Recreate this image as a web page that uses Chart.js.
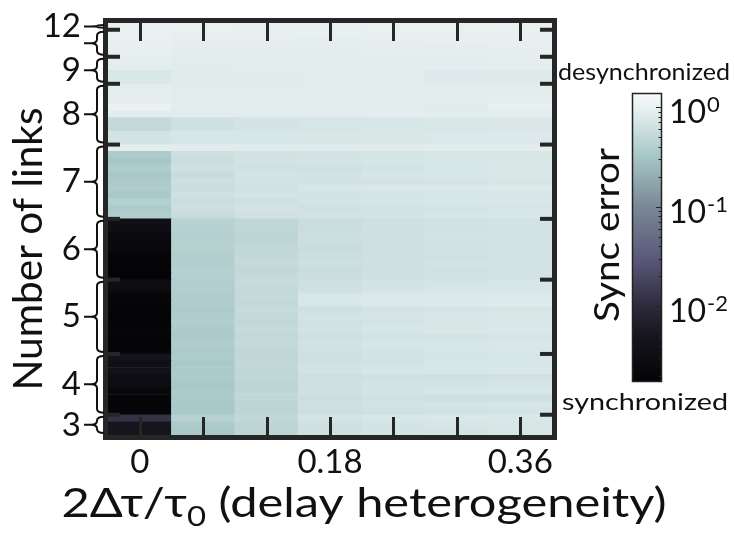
<!DOCTYPE html>
<html>
<head>
<meta charset="utf-8">
<script src="https://cdn.jsdelivr.net/npm/chart.js@4.4.1/dist/chart.umd.min.js"></script>
<style>
  html, body { margin: 0; padding: 0; background: #fff; }
  #heat { display: block; }
</style>
</head>
<body>
<canvas id="heat" width="734" height="533"></canvas>
<script>
// columns: 2Δτ/τ0 delay heterogeneity
const delayLabels = ['0', '0.06', '0.12', '0.18', '0.24', '0.30', '0.36'];
const shownDelays = ['0', '0.18', '0.36'];

// sync error of each network (one row per network, bottom to top), grouped by number of links
const links3 = [
  [0.0050, 0.33, 0.46, 0.62, 0.66, 0.68, 0.70],
  [0.0050, 0.36, 0.47, 0.64, 0.68, 0.70, 0.72],
  [0.0120, 0.42, 0.50, 0.68, 0.72, 0.74, 0.75],
];
const links4 = [
  [0.0020, 0.33, 0.47, 0.60, 0.64, 0.66, 0.68],
  [0.0018, 0.34, 0.46, 0.62, 0.66, 0.68, 0.70],
  [0.0020, 0.34, 0.50, 0.58, 0.62, 0.60, 0.62],
  [0.0022, 0.35, 0.48, 0.64, 0.68, 0.70, 0.72],
  [0.0030, 0.33, 0.47, 0.62, 0.66, 0.67, 0.69],
  [0.0030, 0.36, 0.49, 0.60, 0.63, 0.62, 0.64],
  [0.0040, 0.35, 0.48, 0.66, 0.70, 0.72, 0.74],
  [0.0035, 0.34, 0.50, 0.64, 0.67, 0.70, 0.72],
  [0.0045, 0.36, 0.49, 0.62, 0.66, 0.68, 0.70],
];
const links5 = [
  [0.0018, 0.36, 0.50, 0.63, 0.68, 0.70, 0.72],
  [0.0017, 0.37, 0.52, 0.65, 0.70, 0.72, 0.74],
  [0.0018, 0.35, 0.51, 0.62, 0.66, 0.68, 0.70],
  [0.0019, 0.36, 0.53, 0.66, 0.72, 0.74, 0.76],
  [0.0018, 0.38, 0.50, 0.64, 0.68, 0.70, 0.72],
  [0.0017, 0.37, 0.52, 0.68, 0.70, 0.72, 0.74],
  [0.0018, 0.36, 0.54, 0.62, 0.66, 0.68, 0.70],
  [0.0019, 0.38, 0.51, 0.74, 0.78, 0.80, 0.82],
  [0.0020, 0.37, 0.53, 0.72, 0.76, 0.78, 0.80],
  [0.0028, 0.39, 0.52, 0.63, 0.68, 0.70, 0.72],
  [0.0030, 0.38, 0.55, 0.62, 0.66, 0.68, 0.70],
];
const links6 = [
  [0.0017, 0.40, 0.52, 0.58, 0.62, 0.65, 0.67],
  [0.0017, 0.41, 0.50, 0.57, 0.60, 0.64, 0.66],
  [0.0018, 0.39, 0.53, 0.60, 0.63, 0.66, 0.68],
  [0.0018, 0.40, 0.51, 0.58, 0.61, 0.64, 0.66],
  [0.0024, 0.42, 0.50, 0.56, 0.60, 0.63, 0.65],
  [0.0025, 0.41, 0.48, 0.58, 0.62, 0.65, 0.67],
  [0.0026, 0.40, 0.47, 0.60, 0.63, 0.66, 0.68],
  [0.0032, 0.42, 0.48, 0.57, 0.61, 0.64, 0.66],
  [0.0034, 0.43, 0.49, 0.58, 0.62, 0.65, 0.67],
];
const links7 = [
  [0.38, 0.55, 0.64, 0.66, 0.68, 0.70, 0.72],
  [0.36, 0.60, 0.66, 0.64, 0.66, 0.68, 0.70],
  [0.40, 0.58, 0.62, 0.68, 0.70, 0.72, 0.74],
  [0.34, 0.62, 0.68, 0.66, 0.68, 0.70, 0.72],
  [0.37, 0.57, 0.63, 0.72, 0.74, 0.76, 0.78],
  [0.35, 0.60, 0.66, 0.65, 0.67, 0.69, 0.71],
  [0.33, 0.56, 0.68, 0.67, 0.70, 0.72, 0.74],
  [0.37, 0.62, 0.64, 0.64, 0.68, 0.70, 0.72],
  [0.32, 0.58, 0.66, 0.68, 0.70, 0.72, 0.74],
  [0.36, 0.60, 0.65, 0.66, 0.69, 0.71, 0.73],
  [0.88, 0.85, 0.84, 0.84, 0.85, 0.86, 0.88],
];
const links8 = [
  [0.68, 0.70, 0.72, 0.72, 0.74, 0.76, 0.78],
  [0.66, 0.72, 0.72, 0.74, 0.75, 0.76, 0.78],
  [0.52, 0.62, 0.68, 0.70, 0.72, 0.73, 0.75],
  [0.52, 0.62, 0.68, 0.70, 0.72, 0.74, 0.76],
  [0.88, 0.86, 0.86, 0.88, 0.88, 0.89, 0.90],
  [1.05, 0.88, 0.88, 0.88, 0.89, 0.84, 0.95],
  [0.92, 0.86, 0.87, 0.87, 0.88, 0.90, 0.91],
  [0.92, 0.86, 0.86, 0.88, 0.88, 0.89, 0.90],
  [0.88, 0.84, 0.86, 0.86, 0.87, 0.88, 0.89],
];
const links9 = [
  [0.74, 0.84, 0.85, 0.86, 0.87, 0.80, 0.82],
  [0.72, 0.84, 0.86, 0.86, 0.88, 0.80, 0.82],
  [0.90, 0.86, 0.87, 0.88, 0.89, 0.90, 0.91],
  [0.92, 0.86, 0.88, 0.88, 0.89, 0.90, 0.91],
];
const links10 = [
  [0.94, 0.90, 0.90, 0.90, 0.91, 0.92, 0.93],
  [0.95, 0.92, 0.91, 0.91, 0.92, 0.92, 0.93],
  [0.96, 0.93, 0.93, 0.92, 0.93, 0.94, 0.95],
  [0.97, 0.95, 0.94, 0.94, 0.94, 0.95, 0.96],
];
const links12 = [
  [0.98, 0.96, 0.95, 0.95, 0.96, 0.96, 0.97],
];

const linkGroups = [
  { label: '3', rows: links3 },
  { label: '4', rows: links4 },
  { label: '5', rows: links5 },
  { label: '6', rows: links6 },
  { label: '7', rows: links7 },
  { label: '8', rows: links8 },
  { label: '9', rows: links9 },
  { label: '', rows: links10 },
  { label: '12', rows: links12 },
];

// colour bar decades
const cbarExponents = [0, -1, -2];
const cbarRange = [-2.76, 0.14]; // log10 of the colour limits

// black -> purple-grey -> teal -> white, keyed on log10(error)
const cmapStops = [
  [-2.76, [4, 4, 6]],
  [-2.3, [22, 21, 30]],
  [-2.0, [44, 42, 58]],
  [-1.55, [88, 86, 120]],
  [-1.0, [122, 136, 150]],
  [-0.5, [166, 198, 198]],
  [-0.2, [208, 225, 225]],
  [0.0, [234, 241, 242]],
  [0.14, [248, 249, 251]],
];

function cmapLog(v) {
  if (v <= cmapStops[0][0]) return cmapStops[0][1];
  for (let i = 1; i < cmapStops.length; i++) {
    const [v1, c1] = cmapStops[i];
    if (v <= v1) {
      const [v0, c0] = cmapStops[i - 1];
      const t = (v - v0) / (v1 - v0);
      return c0.map((c, k) => Math.round(c + (c1[k] - c) * t));
    }
  }
  return cmapStops[cmapStops.length - 1][1];
}
const errColor = e => 'rgb(' + cmapLog(Math.log10(e)).join(',') + ')';

const rows = linkGroups.flatMap(g => g.rows);
let acc = 0;
const groupSpans = linkGroups.map(g => { const s = acc; acc += g.rows.length; return [s, acc]; });

const datasets = rows.map(r => ({
  data: r.map(() => 1),
  backgroundColor: r.map(errColor),
  borderWidth: 0,
  barPercentage: 1,
  categoryPercentage: 1,
}));

const FONT = 'Lato, "Open Sans", sans-serif';
const INK = '#262626';

// draw a run of [text, size, dy] pieces, squeezed/stretched horizontally to a given width
function fitPieces(ctx, pieces, cx, baseY, width) {
  const ws = pieces.map(([t, size]) => { ctx.font = size + 'px ' + FONT; return ctx.measureText(t).width; });
  const total = ws.reduce((s, w) => s + w, 0);
  ctx.save();
  ctx.translate(cx - width / 2, baseY);
  ctx.scale(width / total, 1);
  ctx.textAlign = 'left';
  ctx.textBaseline = 'alphabetic';
  let tx = 0;
  pieces.forEach(([t, size, dy], i) => {
    ctx.font = size + 'px ' + FONT;
    ctx.fillText(t, tx, dy || 0);
    tx += ws[i];
  });
  ctx.restore();
}

const decorations = {
  id: 'decorations',
  afterDatasetsDraw(chart) {
    const { ctx, chartArea: a, scales: { x, y } } = chart;
    const line = (x1, y1, x2, y2) => { ctx.beginPath(); ctx.moveTo(x1, y1); ctx.lineTo(x2, y2); ctx.stroke(); };
    ctx.save();

    // inward ticks along top and bottom at each column
    ctx.strokeStyle = INK;
    ctx.lineWidth = 3;
    delayLabels.forEach((_, i) => {
      const px = Math.round(x.getPixelForValue(i)) + 0.5;
      line(px, a.top, px, a.top + 18);
      line(px, a.bottom - 18, px, a.bottom);
    });

    // group boundaries on left and right edges
    ctx.lineWidth = 4;
    groupSpans.slice(1).forEach(([s]) => {
      const py = y.getPixelForValue(s);
      line(a.left, py, a.left + 12, py);
      line(a.right - 12, py, a.right, py);
    });

    // frame
    ctx.lineWidth = 5;
    ctx.strokeRect(a.left - 2.5, a.top - 2.5, a.right - a.left + 5, a.bottom - a.top + 5);

    // curly braces beside the link labels
    ctx.strokeStyle = '#111';
    ctx.lineWidth = 2;
    groupSpans.forEach(([s, e]) => {
      const yTop = y.getPixelForValue(e) + 2;
      const yBot = y.getPixelForValue(s) - 2;
      const ym = (yTop + yBot) / 2;
      const r = Math.min(4, (yBot - yTop) / 4);
      ctx.beginPath();
      ctx.moveTo(104, yTop);
      ctx.quadraticCurveTo(97, yTop, 97, yTop + r);
      ctx.lineTo(97, ym - r);
      ctx.quadraticCurveTo(97, ym, 91, ym);
      ctx.quadraticCurveTo(97, ym, 97, ym + r);
      ctx.lineTo(97, yBot - r);
      ctx.quadraticCurveTo(97, yBot, 104, yBot);
      ctx.moveTo(84, ym);
      ctx.lineTo(91, ym);
      ctx.stroke();
    });

    // colour bar
    const cb = { left: 632, right: 662, top: 93, bottom: 382 };
    const [lo, hi] = cbarRange;
    const cbY = v => cb.top + (hi - v) / (hi - lo) * (cb.bottom - cb.top);
    const grad = ctx.createLinearGradient(0, cb.top, 0, cb.bottom);
    cmapStops.forEach(([v, c]) => grad.addColorStop((hi - v) / (hi - lo), 'rgb(' + c.join(',') + ')'));
    ctx.fillStyle = grad;
    ctx.fillRect(cb.left, cb.top, cb.right - cb.left, cb.bottom - cb.top);
    ctx.strokeStyle = '#222';
    ctx.lineWidth = 1.5;
    ctx.strokeRect(cb.left + 0.5, cb.top + 0.5, cb.right - cb.left - 1, cb.bottom - cb.top - 1);
    ctx.lineWidth = 1;
    for (let d = 0; d >= -3; d--) {
      for (let k = 1; k <= 9; k++) {
        const v = d + Math.log10(k);
        if (v < lo || v > hi) continue;
        const py = Math.round(cbY(v)) + 0.5;
        line(cb.right - (k === 1 ? 6 : 3.5), py, cb.right, py);
      }
    }
    ctx.fillStyle = '#111';
    ctx.textAlign = 'left';
    ctx.textBaseline = 'alphabetic';
    cbarExponents.forEach(p => {
      const py = cbY(p);
      ctx.font = '32px ' + FONT;
      ctx.fillText('10', 669, py + 16);
      const w = ctx.measureText('10').width;
      ctx.font = '22px ' + FONT;
      ctx.fillText(String(p), 669 + w + 1, py + 5);
    });

    fitPieces(ctx, [['desynchronized', 23]], 644, 80, 172);
    fitPieces(ctx, [['synchronized', 23]], 645, 410, 166);

    // rotated titles
    ctx.save();
    ctx.translate(619, 0);
    ctx.rotate(-Math.PI / 2);
    fitPieces(ctx, [['Sync error', 35]], -235, 0, 174);
    ctx.restore();

    ctx.save();
    ctx.translate(42, 0);
    ctx.rotate(-Math.PI / 2);
    fitPieces(ctx, [['Number of links', 41]], -249, 0, 283);
    ctx.restore();

    // x title with subscript
    fitPieces(ctx, [['2Δτ/τ', 40], ['0', 27, 9], [' (delay heterogeneity)', 40]], 364, 517, 605);

    ctx.restore();
  }
};

new Chart(document.getElementById('heat'), {
  type: 'bar',
  data: { labels: delayLabels, datasets },
  options: {
    responsive: false,
    animation: false,
    devicePixelRatio: 1,
    events: [],
    layout: { padding: { top: 23, right: 182, left: 0, bottom: 0 } },
    plugins: { legend: { display: false }, tooltip: { enabled: false } },
    scales: {
      x: {
        stacked: true,
        grid: { display: false, drawTicks: false },
        border: { display: false },
        ticks: {
          autoSkip: false, maxRotation: 0, padding: 8, color: '#111',
          font: { family: FONT, size: 33 },
          callback: (v, i) => shownDelays.includes(delayLabels[i]) ? delayLabels[i] : '',
        },
        afterFit: s => { s.height = 98; s.paddingLeft = 0; s.paddingRight = 0; },
      },
      y: {
        stacked: true,
        min: 0,
        max: rows.length,
        grid: { display: false, drawTicks: false },
        border: { display: false },
        afterBuildTicks: s => { s.ticks = groupSpans.map(([a, b]) => ({ value: (a + b) / 2 })); },
        ticks: {
          autoSkip: false, padding: 27, color: '#111',
          font: { family: FONT, size: 33 },
          callback: (v, i) => linkGroups[i].label,
        },
        afterFit: s => { s.width = 108; s.paddingTop = 0; s.paddingBottom = 0; },
      },
    },
  },
  plugins: [decorations],
});
</script>
</body>
</html>
